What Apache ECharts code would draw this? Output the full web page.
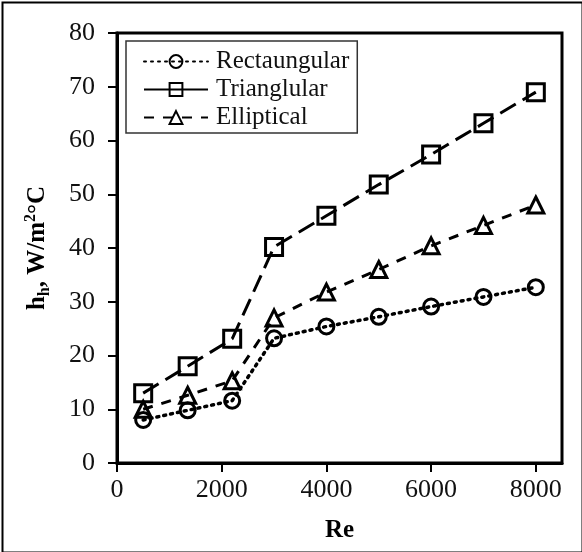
<!DOCTYPE html>
<html>
<head>
<meta charset="utf-8">
<script src="https://cdn.jsdelivr.net/npm/echarts@6/dist/echarts.min.js"></script>
<style>
html,body{margin:0;padding:0;background:#fff;}
#c{width:582px;height:552px;}
</style>
</head>
<body>
<div id="c"></div>
<script>
const reValues = [500, 1350, 2200, 3000, 4000, 5000, 6000, 7000, 8000];
const rectangular = [8.0, 9.8, 11.6, 23.2, 25.4, 27.2, 29.1, 30.9, 32.7];
const triangular = [13.0, 18.0, 23.1, 40.2, 46.0, 51.8, 57.4, 63.2, 69.0];
const elliptical = [10.0, 12.6, 15.3, 27.0, 31.8, 36.0, 40.4, 44.2, 48.0];
const xTicks = [0, 2000, 4000, 6000, 8000];
const seriesNames = ['Rectaungular', 'Trianglular', 'Elliptical'];

const FONT = '"Liberation Serif", "Times New Roman", serif';
const pairs = arr => reValues.map((x, i) => [x, arr[i]]);
const markerStyle = {color: 'rgba(0,0,0,0)', borderColor: '#000', borderWidth: 3};

const chart = echarts.init(document.getElementById('c'));
chart.setOption({
  animation: false,
  backgroundColor: '#fff',
  graphic: [{
    type: 'rect', left: 0, top: 0, silent: true,
    shape: {x: 1, y: 1, width: 580, height: 550},
    style: {fill: 'none', stroke: '#000', lineWidth: 2}
  }],
  grid: {left: 117, top: 33, right: 20, bottom: 89, show: true, borderColor: '#000', borderWidth: 3, containLabel: false},
  legend: {
    orient: 'vertical', left: 126, top: 41,
    padding: [8, 8, 3, 17],
    backgroundColor: '#fff', borderColor: '#333', borderWidth: 1.5,
    itemWidth: 64, itemHeight: 16, itemGap: 3,
    textStyle: {fontFamily: FONT, fontSize: 25, color: '#111', padding: [0, 0, 0, 3]},
    data: [
      {name: seriesNames[0]},
      {name: seriesNames[1], lineStyle: {type: 'solid'}},
      {name: seriesNames[2]}
    ]
  },
  xAxis: {
    type: 'value', min: 0, max: 8500, interval: 2000,
    name: 'Re', nameLocation: 'middle', nameGap: 55,
    nameTextStyle: {fontFamily: FONT, fontSize: 25, fontWeight: 'bold', color: '#000'},
    axisLine: {show: true, lineStyle: {color: '#000', width: 3}},
    axisTick: {show: true, inside: false, length: 9, lineStyle: {color: '#000', width: 2}, customValues: xTicks},
    axisLabel: {fontFamily: FONT, fontSize: 26, color: '#111', margin: 14, customValues: xTicks, formatter: v => String(v)},
    splitLine: {show: false}
  },
  yAxis: {
    type: 'value', min: 0, max: 80, interval: 10,
    name: '{b|h}{sub|h}{b|, W/m}{sup|2}{b|°C}',
    nameLocation: 'middle', nameGap: 64, nameRotate: 90,
    nameTextStyle: {
      fontFamily: FONT, fontSize: 25, fontWeight: 'bold', color: '#000',
      rich: {
        b: {fontFamily: FONT, fontSize: 25, fontWeight: 'bold', color: '#000', lineHeight: 30, verticalAlign: 'middle'},
        sub: {fontFamily: FONT, fontSize: 16, fontWeight: 'bold', color: '#000', lineHeight: 30, verticalAlign: 'bottom'},
        sup: {fontFamily: FONT, fontSize: 16, fontWeight: 'bold', color: '#000', lineHeight: 30, verticalAlign: 'top'}
      }
    },
    axisLine: {show: true, lineStyle: {color: '#000', width: 3}},
    axisTick: {show: true, inside: false, length: 9, lineStyle: {color: '#000', width: 2}},
    axisLabel: {fontFamily: FONT, fontSize: 26, color: '#111', margin: 22},
    splitLine: {show: false}
  },
  series: [
    {
      name: seriesNames[0], type: 'line', data: pairs(rectangular),
      symbol: 'circle', symbolSize: 15, itemStyle: markerStyle,
      lineStyle: {color: '#000', width: 3.5, type: [2, 5], cap: 'round'}
    },
    {
      name: seriesNames[1], type: 'line', data: pairs(triangular),
      symbol: 'rect', symbolSize: 17, itemStyle: markerStyle,
      lineStyle: {color: '#000', width: 3, type: [18, 8]}
    },
    {
      name: seriesNames[2], type: 'line', data: pairs(elliptical),
      symbol: 'triangle', symbolSize: 16, itemStyle: markerStyle,
      lineStyle: {color: '#000', width: 3, type: [10, 9]}
    }
  ]
});
</script>
</body>
</html>
